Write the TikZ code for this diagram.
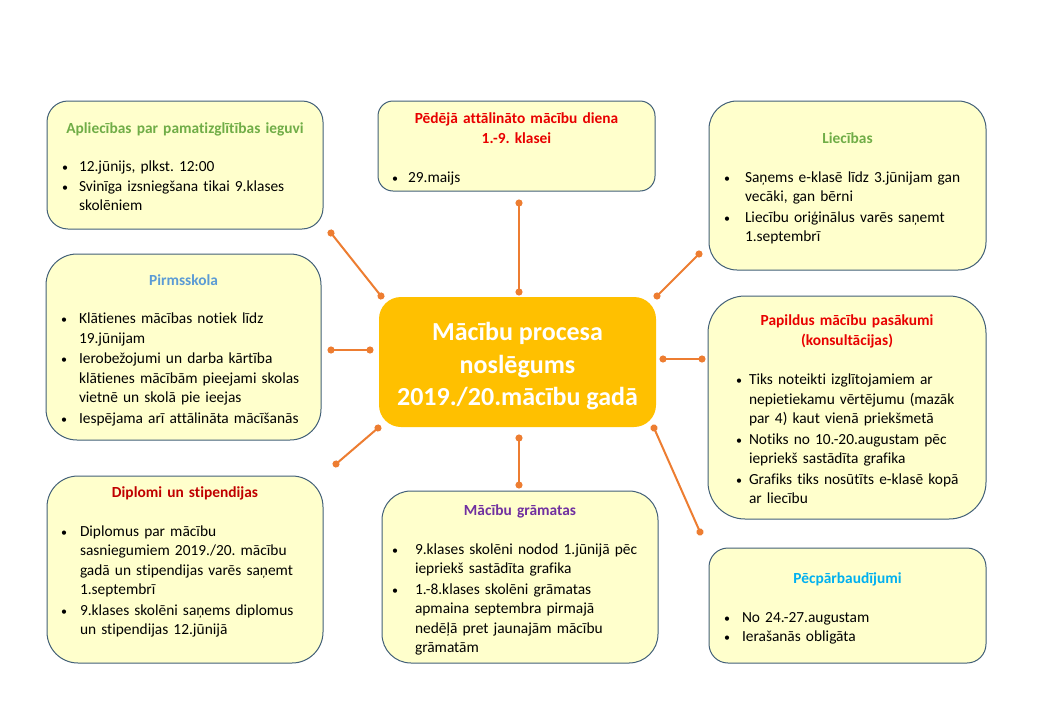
\documentclass[tikz,border=0pt]{standalone}
\usepackage{fontspec}
\setmainfont{Carlito}[Ligatures=NoCommon]
\usetikzlibrary{arrows.meta}

\definecolor{boxfill}{HTML}{FFFFCC}
\definecolor{boxline}{RGB}{66,96,120}
\definecolor{hubfill}{HTML}{FFC000}
\definecolor{linkc}{HTML}{ED7D31}
\definecolor{ttlgreen}{HTML}{70AD47}
\definecolor{ttlred}{RGB}{232,0,0}
\definecolor{ttldark}{HTML}{C00000}
\definecolor{ttlblue}{HTML}{5B9BD5}
\definecolor{ttlpurple}{HTML}{7030A0}
\definecolor{ttlcyan}{HTML}{00B0F0}

\newlength\bulc
\setlength\bulc{15pt}
\newcommand\bulsym{{\fontsize{12}{12}\selectfont\textbullet}}
\newcommand\ttl[2]{{\centering\bfseries\color{#1}\rule{0pt}{20pt}%
  \begin{tabular}[t]{@{}c@{}}#2\end{tabular}\par}\vskip19pt}
\newcommand\bitem[1]{\par\noindent\hbox to 20pt{\hfil\hbox to 0pt{\hss\bulsym\hss}\hskip\bulc}%
  \begin{tabular}[t]{@{}l@{}}#1\end{tabular}\par}

\begin{document}
\frenchspacing
\begin{tikzpicture}
  [x=1pt, y=-1pt,
   every node/.style = {font=\frenchspacing\fontsize{15.4}{19.5}\selectfont},
   box/.style = {draw=boxline, fill=boxfill, line width=1pt, align=left,
                 inner xsep=13pt, inner ysep=0pt},
   bulgap/.code = {\setlength\bulc{#1}},
   hub/.style = {fill=hubfill, text=white, align=center, inner sep=0pt,
                 font=\bfseries\fontsize{26}{32.5}\selectfont,
                 minimum width=277pt, minimum height=130pt, rounded corners=22pt},
   link/.style = {draw=linkc, line width=2pt, {Circle[length=7pt]}-{Circle[length=7pt]},
                  shorten <=-3.5pt, shorten >=-3.5pt}]
  \path[use as bounding box, fill=white] (0,0) rectangle (1040,720);

  \node[hub] (mid) at (517.5,362) {\rule{0pt}{27pt}Mācību procesa\\noslēgums\\2019./20.mācību gadā};

  \node[box, minimum height=128pt, text width=252pt, inner xsep=12pt, bulgap=14pt,
        rounded corners=21pt] (apl) at (185,165)
    {\ttl{ttlgreen}{Apliecības par pamatizglītības ieguvi}
     \bitem{12.jūnijs, plkst. 12:00}
     \bitem{Svinīga izsniegšana tikai 9.klases\\skolēniem}};
  \node[box, minimum height=90pt, text width=257pt, inner xsep=10pt, bulgap=13pt,
        rounded corners=15pt] (ped) at (516.5,146)
    {\ttl{ttlred}{Pēdējā attālināto mācību diena\\1.-9. klasei}
     \bitem{29.maijs}};
  \node[box, minimum height=169pt, text width=245pt, inner xsep=16pt, bulgap=18pt,
        rounded corners=28pt] (liec) at (847.5,185.5)
    {\ttl{ttlgreen}{Liecības}
     \bitem{Saņems e-klasē līdz 3.jūnijam  gan\\vecāki, gan bērni}
     \bitem{Liecību oriģinālus varēs saņemt\\1.septembrī}};
  \node[box, minimum height=186pt, text width=249pt, rounded corners=31pt] (pirm) at (183.5,347)
    {\ttl{ttlblue}{Pirmsskola}
     \bitem{Klātienes mācības notiek līdz\\19.jūnijam}
     \bitem{Ierobežojumi  un darba kārtība\\klātienes mācībām pieejami skolas\\vietnē un skolā pie ieejas}
     \bitem{Iespējama arī attālināta mācīšanās}};
  \node[box, minimum height=223pt, text width=236pt, inner xsep=21pt, bulgap=10pt,
        rounded corners=37pt] (pap) at (847,407.5)
    {\ttl{ttlred}{Papildus mācību pasākumi\\(konsultācijas)}
     \bitem{Tiks noteikti izglītojamiem ar\\nepietiekamu vērtējumu (mazāk\\par 4) kaut vienā priekšmetā}
     \bitem{Notiks no 10.-20.augustam pēc\\iepriekš sastādīta grafika}
     \bitem{Grafiks tiks nosūtīts e-klasē kopā\\ar liecību}};
  \node[box, minimum height=187pt, text width=250pt, bulgap=16pt, rounded corners=31pt] (dipl) at (185,569.5)
    {\ttl{ttldark}{Diplomi un stipendijas}
     \bitem{Diplomus par mācību\\sasniegumiem 2019./20. mācību\\gadā un stipendijas varēs saņemt\\1.septembrī}
     \bitem{9.klases skolēni saņems diplomus\\un stipendijas 12.jūnijā}
     \hbox{\strut}};
  \node[box, minimum height=172pt, text width=250pt, bulgap=20pt, rounded corners=29pt] (gram) at (520,577)
    {\ttl{ttlpurple}{Mācību grāmatas}
     \bitem{9.klases skolēni nodod  1.jūnijā pēc\\iepriekš sastādīta grafika}
     \bitem{1.-8.klases skolēni grāmatas\\apmaina septembra pirmajā\\nedēļā pret jaunajām mācību\\grāmatām}};
  \node[box, minimum height=115pt, text width=251pt, rounded corners=19pt] (pec) at (847.5,605.5)
    {\ttl{ttlcyan}{Pēcpārbaudījumi}
     \bitem{No 24.-27.augustam}
     \bitem{Ierašanās obligāta}};

  \coordinate (nwa) at (331,233);  \coordinate (nwb) at (381,296);
  \coordinate (na)  at (519,203);  \coordinate (nb)  at (519,292);
  \coordinate (nea) at (699,254);  \coordinate (neb) at (657,296);
  \coordinate (wa)  at (331,350);  \coordinate (wb)  at (370,350);
  \coordinate (ea)  at (702,359);  \coordinate (eb)  at (663,359);
  \coordinate (swa) at (336,464);  \coordinate (swb) at (378,428);
  \coordinate (sa)  at (519,485);  \coordinate (sb)  at (519,438);
  \coordinate (sea) at (700,532);  \coordinate (seb) at (654,428);

  \draw[link] (nwa) to (nwb);
  \draw[link] (na) to (nb);
  \draw[link] (nea) to (neb);
  \draw[link] (wa) to (wb);
  \draw[link] (ea) to (eb);
  \draw[link] (swa) to (swb);
  \draw[link] (sa) to (sb);
  \draw[link] (sea) to (seb);
\end{tikzpicture}
\end{document}
